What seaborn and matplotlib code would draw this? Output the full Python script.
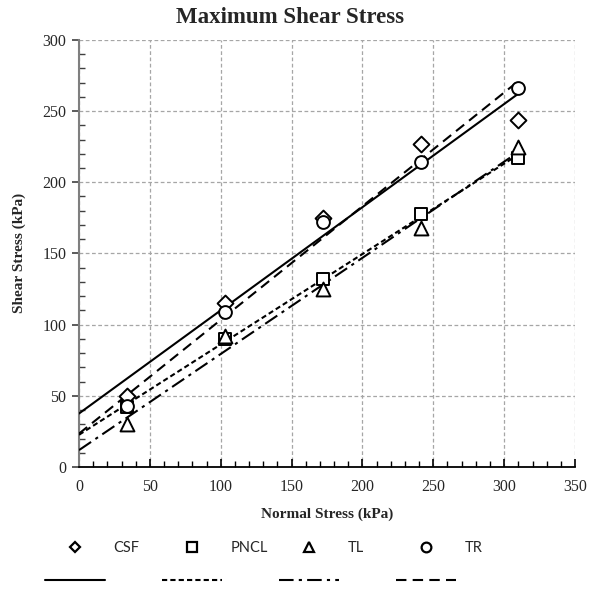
import numpy as np
import seaborn as sns
import matplotlib.pyplot as plt
from matplotlib.lines import Line2D
from matplotlib.ticker import MultipleLocator

# data
normal_stress = [34, 103, 172, 241, 310]
csf = [50, 115, 175, 227, 244]
pncl = [42, 90, 132, 178, 217]
tl = [30, 92, 125, 168, 225]
tr = [43, 109, 172, 214, 266]

series = ['CSF', 'PNCL', 'TL', 'TR']
values = [csf, pncl, tl, tr]
markers = ['D', 's', '^', 'o']
marker_sizes = [65, 85, 100, 85]
line_styles = ['-', (0, (2.5, 1.5)), (0, (7, 2.5, 1.5, 2.5)), (0, (5, 3))]

sns.set_style('white')
plt.rcParams['font.family'] = ['Liberation Serif', 'DejaVu Serif']

fig = plt.figure(figsize=(5.91, 6.01), dpi=100)
ax = fig.add_axes([0.1337, 0.223, 0.8393, 0.7107])

grid_kw = dict(color='#a6a6a6', linewidth=0.9, linestyle=(0, (3, 2)))
ax.set_xlim(0, 350)
ax.set_ylim(0, 300)
ax.xaxis.set_major_locator(MultipleLocator(50))
ax.xaxis.set_minor_locator(MultipleLocator(10))
ax.yaxis.set_major_locator(MultipleLocator(50))
ax.yaxis.set_minor_locator(MultipleLocator(10))
ax.grid(True, which='major', **grid_kw)
ax.set_axisbelow(True)

x = np.array(normal_stress)
xfit = np.array([0, x.max()])
handles = []
for name, y, m, ms, ls in zip(series, values, markers, marker_sizes, line_styles):
    slope, icpt = np.polyfit(x, np.array(y), 1)
    sns.lineplot(x=xfit, y=slope * xfit + icpt, ax=ax, color='black',
                 linewidth=1.5, linestyle=ls, zorder=3)
    sns.scatterplot(x=x, y=y, ax=ax, marker=m, s=ms, facecolor='white',
                    edgecolor='black', linewidth=1.4, zorder=4)
    handles.append((Line2D([], [], marker=m, ls='none', mfc='white', mec='black',
                           mew=1.6, ms={'D': 5.5, 's': 7, '^': 7, 'o': 7}[m]),
                    Line2D([], [], color='black', lw=1.5, ls=ls)))

for side in ['top', 'right']:
    ax.spines[side].set_visible(False)
ax.spines['left'].set_color('#7f7f7f')
ax.spines['left'].set_linewidth(1.5)
ax.spines['bottom'].set_color('black')
ax.spines['bottom'].set_linewidth(1.3)

ax.tick_params(axis='x', which='major', direction='in', length=6, width=1.2,
               labelsize=11.5, pad=9, color='black', bottom=True)
ax.tick_params(axis='x', which='minor', direction='in', length=4, width=1,
               color='black', bottom=True)
ax.tick_params(axis='y', which='major', direction='out', length=5, width=1.2,
               labelsize=11.5, pad=4, color='#404040', left=True)
ax.tick_params(axis='y', which='minor', direction='in', length=4, width=1,
               color='#404040', left=True)

fig.suptitle('Maximum Shear Stress', x=0.49, y=0.988, fontsize=16.5,
             fontweight='bold')
ax.set_xlabel('Normal Stress (kPa)', fontsize=11, fontweight='bold', labelpad=9)
ax.set_ylabel('Shear Stress (kPa)', fontsize=11, fontweight='bold', labelpad=12)

# one legend column per series, fixed spacing like the original
col_x = [45, 162, 279, 396]
for name, (mk, ln), cx in zip(series, handles, col_x):
    fig.legend(handles=[mk, ln], labels=[name, ''], loc='upper left',
               bbox_to_anchor=(cx / 591, 1 - 541 / 601), frameon=False,
               handlelength=4.1, handletextpad=0.6, labelspacing=1.3,
               borderpad=0, borderaxespad=0,
               prop={'family': ['Lato', 'DejaVu Sans'], 'size': 10.5})

fig.savefig('out.png', dpi=100)
